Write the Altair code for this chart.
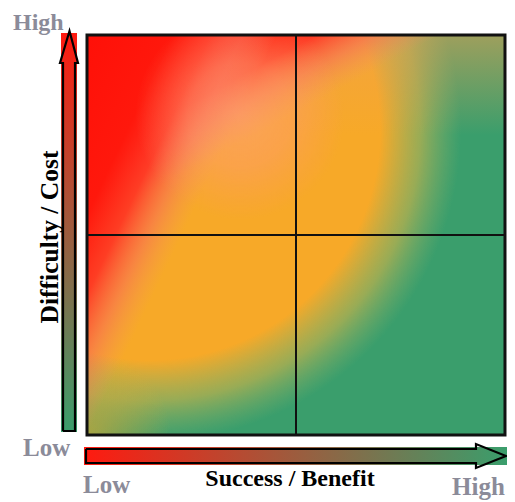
import altair as alt
import pandas as pd

# ---------------- data ----------------
quad_edges = [0, 1, 2]                 # matrix outer edges and midline (quadrant units)
x_title = "Success / Benefit"
y_title = "Difficulty / Cost"

# layout in quadrant units (negative = outside the matrix, left / below)
x_domain = [-0.378, 2.0096]
y_domain = [-0.335, 2.135]

vbar = dict(x=-0.1244, x2=-0.0478, y=0.015, y2=2.01)
hbar = dict(x=-0.0144, x2=2.0096, y=-0.06, y2=-0.15)

varrow_x = [-0.1148, -0.1148, -0.1292, -0.0837, -0.0431, -0.0574, -0.0574, -0.1148]
varrow_y = [0.02, 1.86, 1.86, 2.02, 1.86, 1.86, 0.02, 0.02]
harrow_x = [-0.0048, 1.8612, 1.8612, 2.0048, 1.8612, 1.8612, -0.0048, -0.0048]
harrow_y = [-0.07, -0.07, -0.045, -0.105, -0.165, -0.14, -0.14, -0.07]

word_x = [-0.3541, -0.3062, -0.0191, 1.7464]
word_y = [2.025, -0.105, -0.29, -0.30]
word_s = [24, 25, 25, 25]
word_t = ["High", "Low", "Low", "High"]

title_pos = {"y": (-0.1388, 0.99), "x": (0.9713, -0.255)}

# colours
RED = "#ff1a10"
GREEN = "#3a9e6c"
GREY = "#8b8b99"

xs = alt.Scale(domain=x_domain, nice=False, zero=False)
ys = alt.Scale(domain=y_domain, nice=False, zero=False)


def rect_layer(x, x2, y, y2, **mark):
    df = pd.DataFrame({"x": [x], "x2": [x2], "y": [y], "y2": [y2]})
    return alt.Chart(df).mark_rect(**mark).encode(
        x=alt.X("x:Q", scale=xs, axis=None), x2="x2:Q",
        y=alt.Y("y:Q", scale=ys, axis=None), y2="y2:Q")


def stops(lst):
    return [{"offset": o, "color": c} for o, c in lst]


lo, mid, hi = quad_edges

# base green field
base = rect_layer(lo, hi, lo, hi, fill=GREEN)

# amber blob
amber = rect_layer(lo, hi, lo, hi, fill={
    "gradient": "radial", "x1": 0.1507, "y1": 0.2488, "r1": 0,
    "x2": 0.1507, "y2": 0.2488, "r2": 0.744,
    "stops": stops([(0, "rgba(247,169,40,1)"), (0.74, "rgba(247,169,40,1)"),
                    (0.87, "rgba(210,180,72,0.62)"), (1, "rgba(160,182,104,0)")])})

# olive at lower-left corner
corner = rect_layer(lo, hi, lo, hi, fill={
    "gradient": "radial", "x1": 0.0, "y1": 0.978, "r1": 0,
    "x2": 0.0, "y2": 0.978, "r2": 0.2,
    "stops": stops([(0, "rgba(240,168,40,0.6)"), (1, "rgba(240,168,40,0)")])})

# light orange band along the top of the upper right quadrant
band = rect_layer(mid, hi, 1.5, hi, fill={
    "gradient": "linear", "x1": 0, "y1": 0, "x2": 0, "y2": 1,
    "stops": stops([(0, "rgba(240,160,80,0.55)"), (1, "rgba(240,160,80,0)")])})

red_stops = stops([(0, "rgba(255,16,8,1)"), (0.45, "rgba(255,24,12,1)"),
                   (0.65, "rgba(255,50,35,0.9)"), (0.82, "rgba(248,105,85,0.55)"),
                   (1, "rgba(240,140,105,0)")])
red_top = rect_layer(lo, 1.689, 1.05, hi, fill={
    "gradient": "linear", "x1": 0, "y1": 0, "x2": 0.5, "y2": 0.5, "stops": red_stops})
red_left = rect_layer(lo, 0.909, lo, hi, fill={
    "gradient": "linear", "x1": 0, "y1": 0, "x2": 0.5, "y2": 0.5, "stops": red_stops})

glow = rect_layer(lo, hi, lo, hi, fill={
    "gradient": "radial", "x1": 0.366, "y1": 0.213, "r1": 0,
    "x2": 0.366, "y2": 0.213, "r2": 0.25,
    "stops": stops([(0, "rgba(255,160,120,0.62)"), (0.5, "rgba(255,155,112,0.45)"),
                    (1, "rgba(255,150,105,0)")])})

border = rect_layer(lo, hi, lo, hi, fillOpacity=0, stroke="#111111", strokeWidth=3)

vline = alt.Chart(pd.DataFrame({"x": [mid], "y": [lo], "y2": [hi]})).mark_rule(
    color="#111111", strokeWidth=2).encode(
    x=alt.X("x:Q", scale=xs, axis=None), y=alt.Y("y:Q", scale=ys, axis=None), y2="y2:Q")
hline = alt.Chart(pd.DataFrame({"y": [mid], "x": [lo], "x2": [hi]})).mark_rule(
    color="#111111", strokeWidth=2).encode(
    y=alt.Y("y:Q", scale=ys, axis=None), x=alt.X("x:Q", scale=xs, axis=None), x2="x2:Q")

# gradient bars behind the arrows
vbar_l = rect_layer(vbar["x"], vbar["x2"], vbar["y"], vbar["y2"], fill={
    "gradient": "linear", "x1": 0, "y1": 0, "x2": 0, "y2": 1,
    "stops": stops([(0, RED), (1, GREEN)])})
hbar_l = rect_layer(hbar["x"], hbar["x2"], hbar["y"], hbar["y2"], fill={
    "gradient": "linear", "x1": 0, "y1": 0, "x2": 1, "y2": 0,
    "stops": stops([(0, RED), (1, GREEN)])})


def arrow(xv, yv):
    df = pd.DataFrame({"x": xv, "y": yv, "o": list(range(len(xv)))})
    return alt.Chart(df).mark_line(color="black", strokeWidth=2.2, strokeJoin="miter").encode(
        x=alt.X("x:Q", scale=xs, axis=None), y=alt.Y("y:Q", scale=ys, axis=None),
        order="o:Q")


varrow = arrow(varrow_x, varrow_y)
harrow = arrow(harrow_x, harrow_y)

words = alt.Chart(pd.DataFrame({"x": word_x, "y": word_y, "t": word_t, "s": word_s})).mark_text(
    font="Liberation Serif", fontWeight="bold", color=GREY,
    align="left", baseline="alphabetic").encode(
    x=alt.X("x:Q", scale=xs, axis=None), y=alt.Y("y:Q", scale=ys, axis=None), text="t:N",
    size=alt.Size("s:Q", scale=None, legend=None))

ytitle = alt.Chart(pd.DataFrame({"x": [title_pos["y"][0]], "y": [title_pos["y"][1]], "t": [y_title]})).mark_text(
    font="Liberation Serif", fontWeight="bold", fontSize=25.5, color="black",
    align="center", baseline="alphabetic", angle=270).encode(
    x=alt.X("x:Q", scale=xs, axis=None), y=alt.Y("y:Q", scale=ys, axis=None), text="t:N")

xtitle = alt.Chart(pd.DataFrame({"x": [title_pos["x"][0]], "y": [title_pos["x"][1]], "t": [x_title]})).mark_text(
    font="Liberation Serif", fontWeight="bold", fontSize=24, color="black",
    align="center", baseline="alphabetic").encode(
    x=alt.X("x:Q", scale=xs, axis=None), y=alt.Y("y:Q", scale=ys, axis=None), text="t:N")

chart = alt.layer(
    base, amber, corner, band, red_top, red_left, glow,
    vline, hline, border,
    vbar_l, varrow, hbar_l, harrow,
    words, ytitle, xtitle,
).properties(
    width=499, height=494, padding=0,
    autosize=alt.AutoSizeParams(type="none"),
).configure_view(strokeWidth=0)

chart.save("out.html", embed_options={"renderer": "svg", "actions": False})
